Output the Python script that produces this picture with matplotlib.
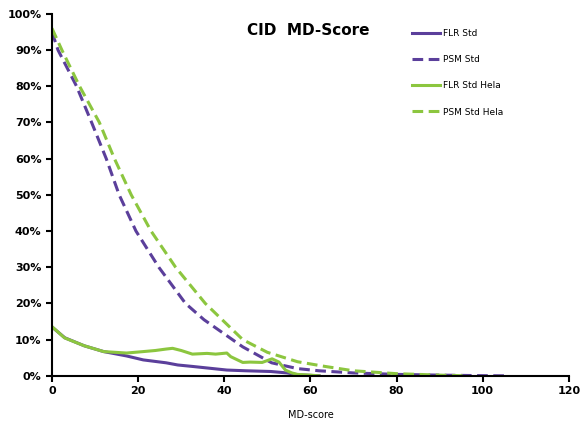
import matplotlib.pyplot as plt
from matplotlib.ticker import PercentFormatter

# MD-score values and cumulative fractions (%)
psm_std_x = [0, 1.4, 5.7, 9.2, 12.6, 15.6, 19.5, 24.8, 31, 35.3, 44.3, 51, 57, 62, 70, 80, 90, 100, 106]
psm_std_y = [95, 90, 80, 70, 60, 50, 40, 30, 20, 15.5, 8, 3.6, 2.0, 1.4, 0.8, 0.4, 0.2, 0.05, 0]

psm_hela_x = [0, 2.3, 6.4, 11, 14.5, 18.4, 23, 28.7, 35.6, 44.3, 50, 57, 63.4, 70, 80, 90, 96]
psm_hela_y = [96, 90, 80, 70, 60, 50, 40, 30, 20, 10, 6.5, 3.9, 2.6, 1.4, 0.6, 0.2, 0]

flr_std_x = [0, 3, 7.5, 12, 17.3, 21.2, 26.5, 29.2, 32.6, 40.6, 45, 50.8, 54.6, 57, 62]
flr_std_y = [13.5, 10.5, 8.3, 6.7, 5.5, 4.4, 3.6, 3.0, 2.6, 1.6, 1.4, 1.2, 0.8, 0.3, 0]

flr_hela_x = [0, 2.9, 7.5, 12, 17.3, 21.2, 24, 26.5, 28, 30, 32.6, 36, 38, 40.6, 41.5, 44.3,
              46, 48.8, 51.1, 52.7, 54.2, 55.7, 57, 60, 62]
flr_hela_y = [13.6, 10.5, 8.3, 6.7, 6.3, 6.7, 7.0, 7.4, 7.6, 7.0, 6.0, 6.2, 6.0, 6.3, 5.3, 3.7,
              3.8, 3.7, 4.7, 3.8, 1.6, 0.8, 0.4, 0.2, 0]

purple = '#5b3f9b'
green = '#8cc63f'

fig = plt.figure(figsize=(5.84, 4.32), dpi=100)
ax = fig.add_axes([0.089, 0.130, 0.885, 0.838])

ax.plot(flr_std_x, flr_std_y, color=purple, lw=2.2, label='FLR Std')
ax.plot(psm_std_x, psm_std_y, color=purple, lw=2.2, ls=(0, (3.5, 1.8)), label='PSM Std')
ax.plot(flr_hela_x, flr_hela_y, color=green, lw=2.2, label='FLR Std Hela')
ax.plot(psm_hela_x, psm_hela_y, color=green, lw=2.2, ls=(0, (3.5, 1.8)), label='PSM Std Hela')

ax.set_xlim(0, 120)
ax.set_ylim(0, 100)
ax.set_xticks(range(0, 121, 20))
ax.set_yticks(range(0, 101, 10))
ax.yaxis.set_major_formatter(PercentFormatter(decimals=0))
for s in ['top', 'right']:
    ax.spines[s].set_visible(False)
for s in ['left', 'bottom']:
    ax.spines[s].set_linewidth(1.5)
ax.tick_params(direction='out', length=4, width=1.5, labelsize=8)
for lab in ax.get_xticklabels() + ax.get_yticklabels():
    lab.set_fontweight('bold')

ax.set_xlabel('MD-score', fontsize=7, labelpad=10)
ax.text(0.495, 0.955, 'CID  MD-Score', transform=ax.transAxes, fontsize=11,
        fontweight='bold', ha='center', va='center')

leg = ax.legend(loc='upper left', bbox_to_anchor=(0.68, 0.98), frameon=False,
                fontsize=6.5, handlelength=3.2, labelspacing=1.9, handletextpad=0.3)

fig.savefig('out.png', dpi=100)
